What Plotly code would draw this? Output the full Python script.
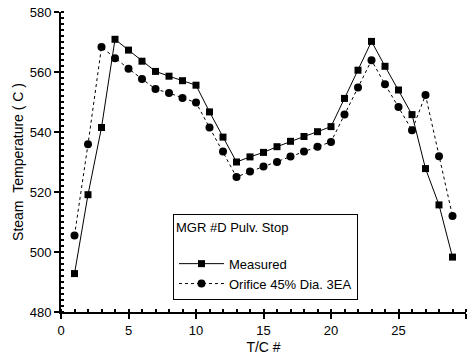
import plotly.graph_objects as go

tc = list(range(1, 30))
measured = [492.8, 519.1, 541.5, 570.9, 567.3, 563.6, 560.2, 558.6, 557.1, 555.6,
            546.7, 538.3, 530.0, 531.7, 533.2, 535.1, 536.9, 538.5, 540.1, 541.8,
            551.2, 560.6, 570.2, 561.9, 554.0, 545.8, 527.8, 515.7, 498.3]
orifice = [505.5, 535.9, 568.3, 564.6, 561.1, 557.7, 554.3, 553.0, 551.3, 549.8,
           541.5, 533.5, 525.0, 526.8, 528.5, 530.0, 531.8, 533.5, 535.1, 536.7,
           545.8, 554.8, 563.9, 555.9, 548.3, 540.6, 552.3, 531.9, 512.0]

fig = go.Figure()
fig.add_trace(go.Scatter(x=tc, y=measured, mode="lines+markers", name="Measured",
                         line=dict(color="black", width=1, dash="solid"),
                         marker=dict(symbol="square", size=7, color="black")))
fig.add_trace(go.Scatter(x=tc, y=orifice, mode="lines+markers", name="Orifice 45% Dia. 3EA",
                         line=dict(color="black", width=1, dash="dot"),
                         marker=dict(symbol="circle", size=8, color="black")))

fam = "Liberation Sans, Arial, sans-serif"
font = dict(family=fam, size=12, color="black")
lfont = dict(family=fam, size=13, color="black")
tfont = dict(family=fam, size=14, color="black")
fig.update_layout(
    width=471, height=359,
    margin=dict(l=61, r=5, t=12, b=47),
    paper_bgcolor="white", plot_bgcolor="white",
    font=font,
    legend=dict(
        title=dict(text="MGR #D Pulv. Stop<br> ", font=lfont),
        x=0.2765, y=0.327, xanchor="left", yanchor="top",
        bordercolor="black", borderwidth=1, bgcolor="white",
        font=lfont, tracegroupgap=0, itemwidth=45,
    ),
    xaxis=dict(range=[0, 30], tickvals=[0, 5, 10, 15, 20, 25, 30],
               tickfont=dict(family=fam, size=13, color="black"),
               showline=True, linecolor="black", linewidth=2, mirror=False,
               ticks="outside", ticklen=5, tickwidth=1.5, tickcolor="black",
               minor=dict(dtick=1, ticks="inside", ticklen=3, tickcolor="black", showgrid=False),
               showgrid=False, zeroline=False,
               title=dict(text="T/C #", font=tfont, standoff=6)),
    yaxis=dict(range=[480, 580], tickvals=[480, 500, 520, 540, 560, 580],
               tickfont=dict(family=fam, size=13, color="black"),
               showline=True, linecolor="black", linewidth=2, mirror=False,
               ticks="outside", ticklen=5, tickwidth=1.5, tickcolor="black",
               minor=dict(dtick=2, ticks="inside", ticklen=3, tickcolor="black", showgrid=False),
               showgrid=False, zeroline=False,
               title=dict(text="Steam&nbsp;&nbsp;Temperature ( C )", font=tfont, standoff=3)),
)
fig.write_html("out.html")
